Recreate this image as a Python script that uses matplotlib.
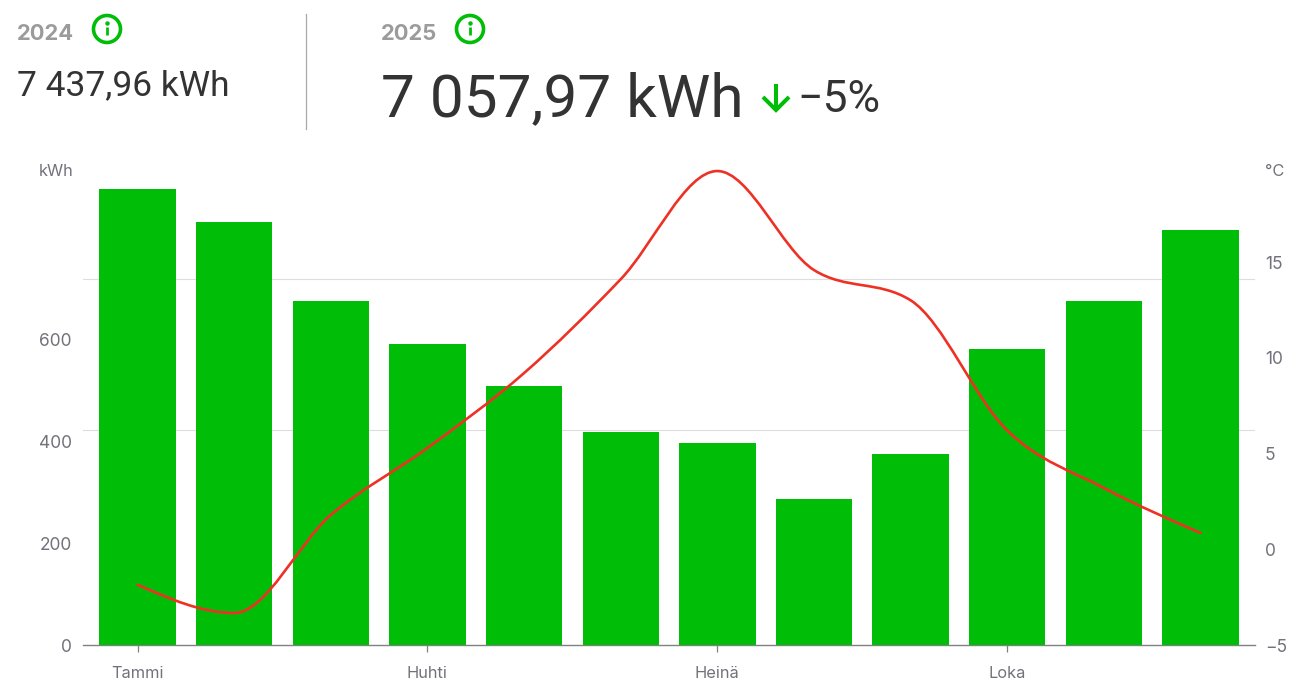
import numpy as np
import matplotlib
matplotlib.use("Agg")
import matplotlib.pyplot as plt
from matplotlib.path import Path
from matplotlib.patches import PathPatch, Circle

plt.rcParams['font.family'] = ['Inter', 'DejaVu Sans']

# Data
months = ['Tammi', 'Helmi', 'Maalis', 'Huhti', 'Touko', 'Kesä', 'Heinä', 'Elo', 'Syys', 'Loka', 'Marras', 'Joulu']
kwh = [896, 832, 676, 592, 509, 419, 397, 287, 375, 582, 676, 816]
temp = [-1.85, -3.33, 1.79, 5.29, 9.2, 14.1, 19.75, 14.58, 13.0, 6.2, 3.2, 0.85]
gridlines = [423, 719.5]
left_ticks = [0, 200, 400, 600]
right_ticks = [-5, 0, 5, 10, 15]
xtick_idx = [0, 3, 6, 9]

W, H = 1303, 690
GREEN = '#00BE07'
RED = '#EE3124'
TICK = '#72727c'
DARK = '#333333'
GREY = '#9b9b9b'

fig = plt.figure(figsize=(W / 100, H / 100), dpi=100)
L, R, T, B = 83, 1255, 160, 645
ax = fig.add_axes([L / W, 1 - B / H, (R - L) / W, (B - T) / H])
ax2 = ax.twinx()
ax.set_zorder(1)
ax2.set_zorder(2)
ax2.patch.set_visible(False)

x = np.arange(len(months))
spacing = 96.64
ax.set_xlim((L - 137.5) / spacing, (R - 137.5) / spacing)
ax.set_ylim(0, (B - T) / 0.5087)
ax2.set_ylim(-5, -5 + (B - T) / 19.15)

for g in gridlines:
    ax.axhline(g, color='#dddddd', lw=0.8, zorder=0)
ax.bar(x, kwh, width=0.79, color=GREEN, zorder=2)


def monotone_path(xs, ys):
    xs = np.asarray(xs, float)
    ys = np.asarray(ys, float)
    h = np.diff(xs)
    s = np.diff(ys) / h
    m = np.zeros_like(ys)
    for i in range(1, len(ys) - 1):
        if s[i - 1] * s[i] > 0:
            m[i] = (np.sign(s[i - 1]) + np.sign(s[i])) * min(
                abs(s[i - 1]), abs(s[i]), 0.25 * abs(s[i - 1] + s[i]))
    m[0] = (3 * s[0] - m[1]) / 2
    m[-1] = (3 * s[-1] - m[-2]) / 2
    verts = [(xs[0], ys[0])]
    codes = [Path.MOVETO]
    for i in range(len(h)):
        d = h[i] / 3
        verts += [(xs[i] + d, ys[i] + m[i] * d), (xs[i + 1] - d, ys[i + 1] - m[i + 1] * d), (xs[i + 1], ys[i + 1])]
        codes += [Path.CURVE4] * 3
    return Path(verts, codes)


ax2.add_patch(PathPatch(monotone_path(x, temp), fill=False, edgecolor=RED, lw=1.9,
                        capstyle='round', joinstyle='round'))

for a in (ax, ax2):
    for s in a.spines.values():
        s.set_visible(False)
ax.spines['bottom'].set_visible(True)
ax.spines['bottom'].set_color('#808080')
ax.spines['bottom'].set_linewidth(1.0)
ax.spines['bottom'].set_zorder(1)

ax.set_xticks(x[xtick_idx])
ax.set_xticklabels([months[i] for i in xtick_idx], fontsize=11.8, color=TICK)
ax.tick_params(axis='x', length=5, width=0.9, color='#808080', pad=10)
ax.set_yticks(left_ticks)
ax.set_yticklabels([str(v) for v in left_ticks], fontsize=12.5, color=TICK)
ax.tick_params(axis='y', length=0, pad=8)
ax2.set_yticks(right_ticks)
ax2.set_yticklabels([str(v).replace('-', '\u2212') for v in right_ticks], fontsize=12.5, color=TICK)
ax2.tick_params(axis='y', length=0, pad=7)

# Overlay in pixel coordinates for the header
ov = fig.add_axes([0, 0, 1, 1], zorder=5)
ov.set_xlim(0, W)
ov.set_ylim(H, 0)
ov.axis('off')
ov.patch.set_visible(False)

ov.text(39, 171.5, 'kWh', fontsize=11.8, color=TICK, va='center', ha='left')
ov.text(1265, 171.5, '°C', fontsize=11.8, color=TICK, va='center', ha='left')

ov.text(17, 34.5, '2024', fontsize=15.8, fontweight='bold', color=GREY, va='center', ha='left')
ov.text(381, 34.5, '2025', fontsize=15.8, fontweight='bold', color=GREY, va='center', ha='left')
ov.text(17, 86, '7 437,96 kWh', fontsize=25.5, color=DARK, va='center', ha='left', family=['Roboto', 'DejaVu Sans'])
ov.text(381, 100, '7 057,97 kWh', fontsize=43.5, color=DARK, va='center', ha='left', family=['Roboto', 'DejaVu Sans'])
ov.text(797, 99.5, '\u22125%', fontsize=32, color=DARK, va='center', ha='left', family=['Roboto', 'DejaVu Sans'])

for cx in (107, 470):
    ov.add_patch(Circle((cx, 29), 13.5, fill=False, edgecolor=GREEN, lw=2.6))
    ov.plot([cx, cx], [27, 35], color=GREEN, lw=2.0, solid_capstyle='butt')
    ov.plot([cx], [22.5], marker='o', ms=2.2, color=GREEN)

ov.plot([776, 776], [84, 110], color=GREEN, lw=2.9, solid_capstyle='butt')
ov.plot([763, 776, 789], [97, 110, 97], color=GREEN, lw=2.9, solid_capstyle='butt', solid_joinstyle='miter')

ov.plot([305.5, 305.5], [14, 129], color='#a8a8a8', lw=0.9)

fig.savefig('out.png', dpi=100)
